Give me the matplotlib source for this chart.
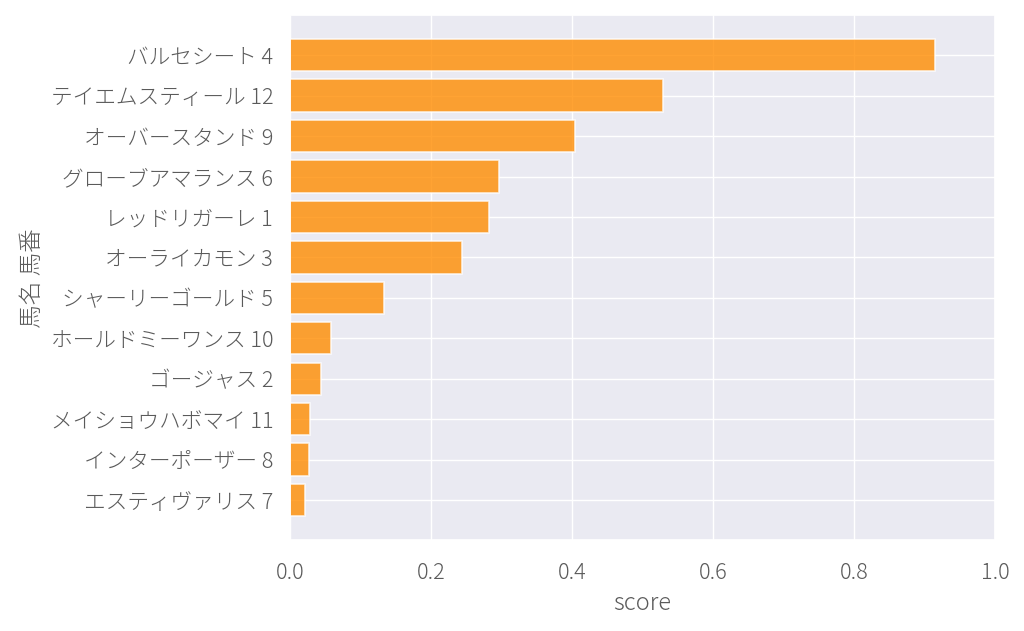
import numpy as np
import matplotlib
matplotlib.use("Agg")
import matplotlib.pyplot as plt
import seaborn as sns

# horse name + number, top to bottom
labels = [
    "バルセシート 4",
    "テイエムスティール 12",
    "オーバースタンド 9",
    "グローブアマランス 6",
    "レッドリガーレ 1",
    "オーライカモン 3",
    "シャーリーゴールド 5",
    "ホールドミーワンス 10",
    "ゴージャス 2",
    "メイショウハボマイ 11",
    "インターポーザー 8",
    "エスティヴァリス 7",
]
scores = [0.915, 0.529, 0.404, 0.296, 0.282, 0.244, 0.133,
          0.058, 0.044, 0.029, 0.027, 0.022]

sns.set_theme(style="darkgrid", font_scale=1.42)
plt.rcParams['font.family'] = ['Noto Sans CJK JP', 'DejaVu Sans']
plt.rcParams['font.weight'] = 'light'
plt.rcParams['axes.labelweight'] = 'light'
txt = '#5a5a5a'
plt.rcParams['text.color'] = txt
plt.rcParams['axes.labelcolor'] = txt
plt.rcParams['xtick.color'] = txt
plt.rcParams['ytick.color'] = txt

fig, ax = plt.subplots(figsize=(10.24, 6.31), dpi=100)
y = np.arange(len(labels))[::-1]
ax.barh(y, scores, height=0.8, color='darkorange', alpha=0.8,
        edgecolor='white', linewidth=1.2)
ax.set_yticks(y)
ax.set_yticklabels(labels)
ax.set_xlim(0, 1.0)
ax.tick_params(axis='x', pad=10)
ax.tick_params(axis='y', pad=6)
ax.set_xlabel("score", labelpad=5)
ax.set_ylabel("馬名 馬番", labelpad=4)
fig.subplots_adjust(left=0.283, right=0.972, top=0.976, bottom=0.144)
fig.savefig("out.png", dpi=100)
